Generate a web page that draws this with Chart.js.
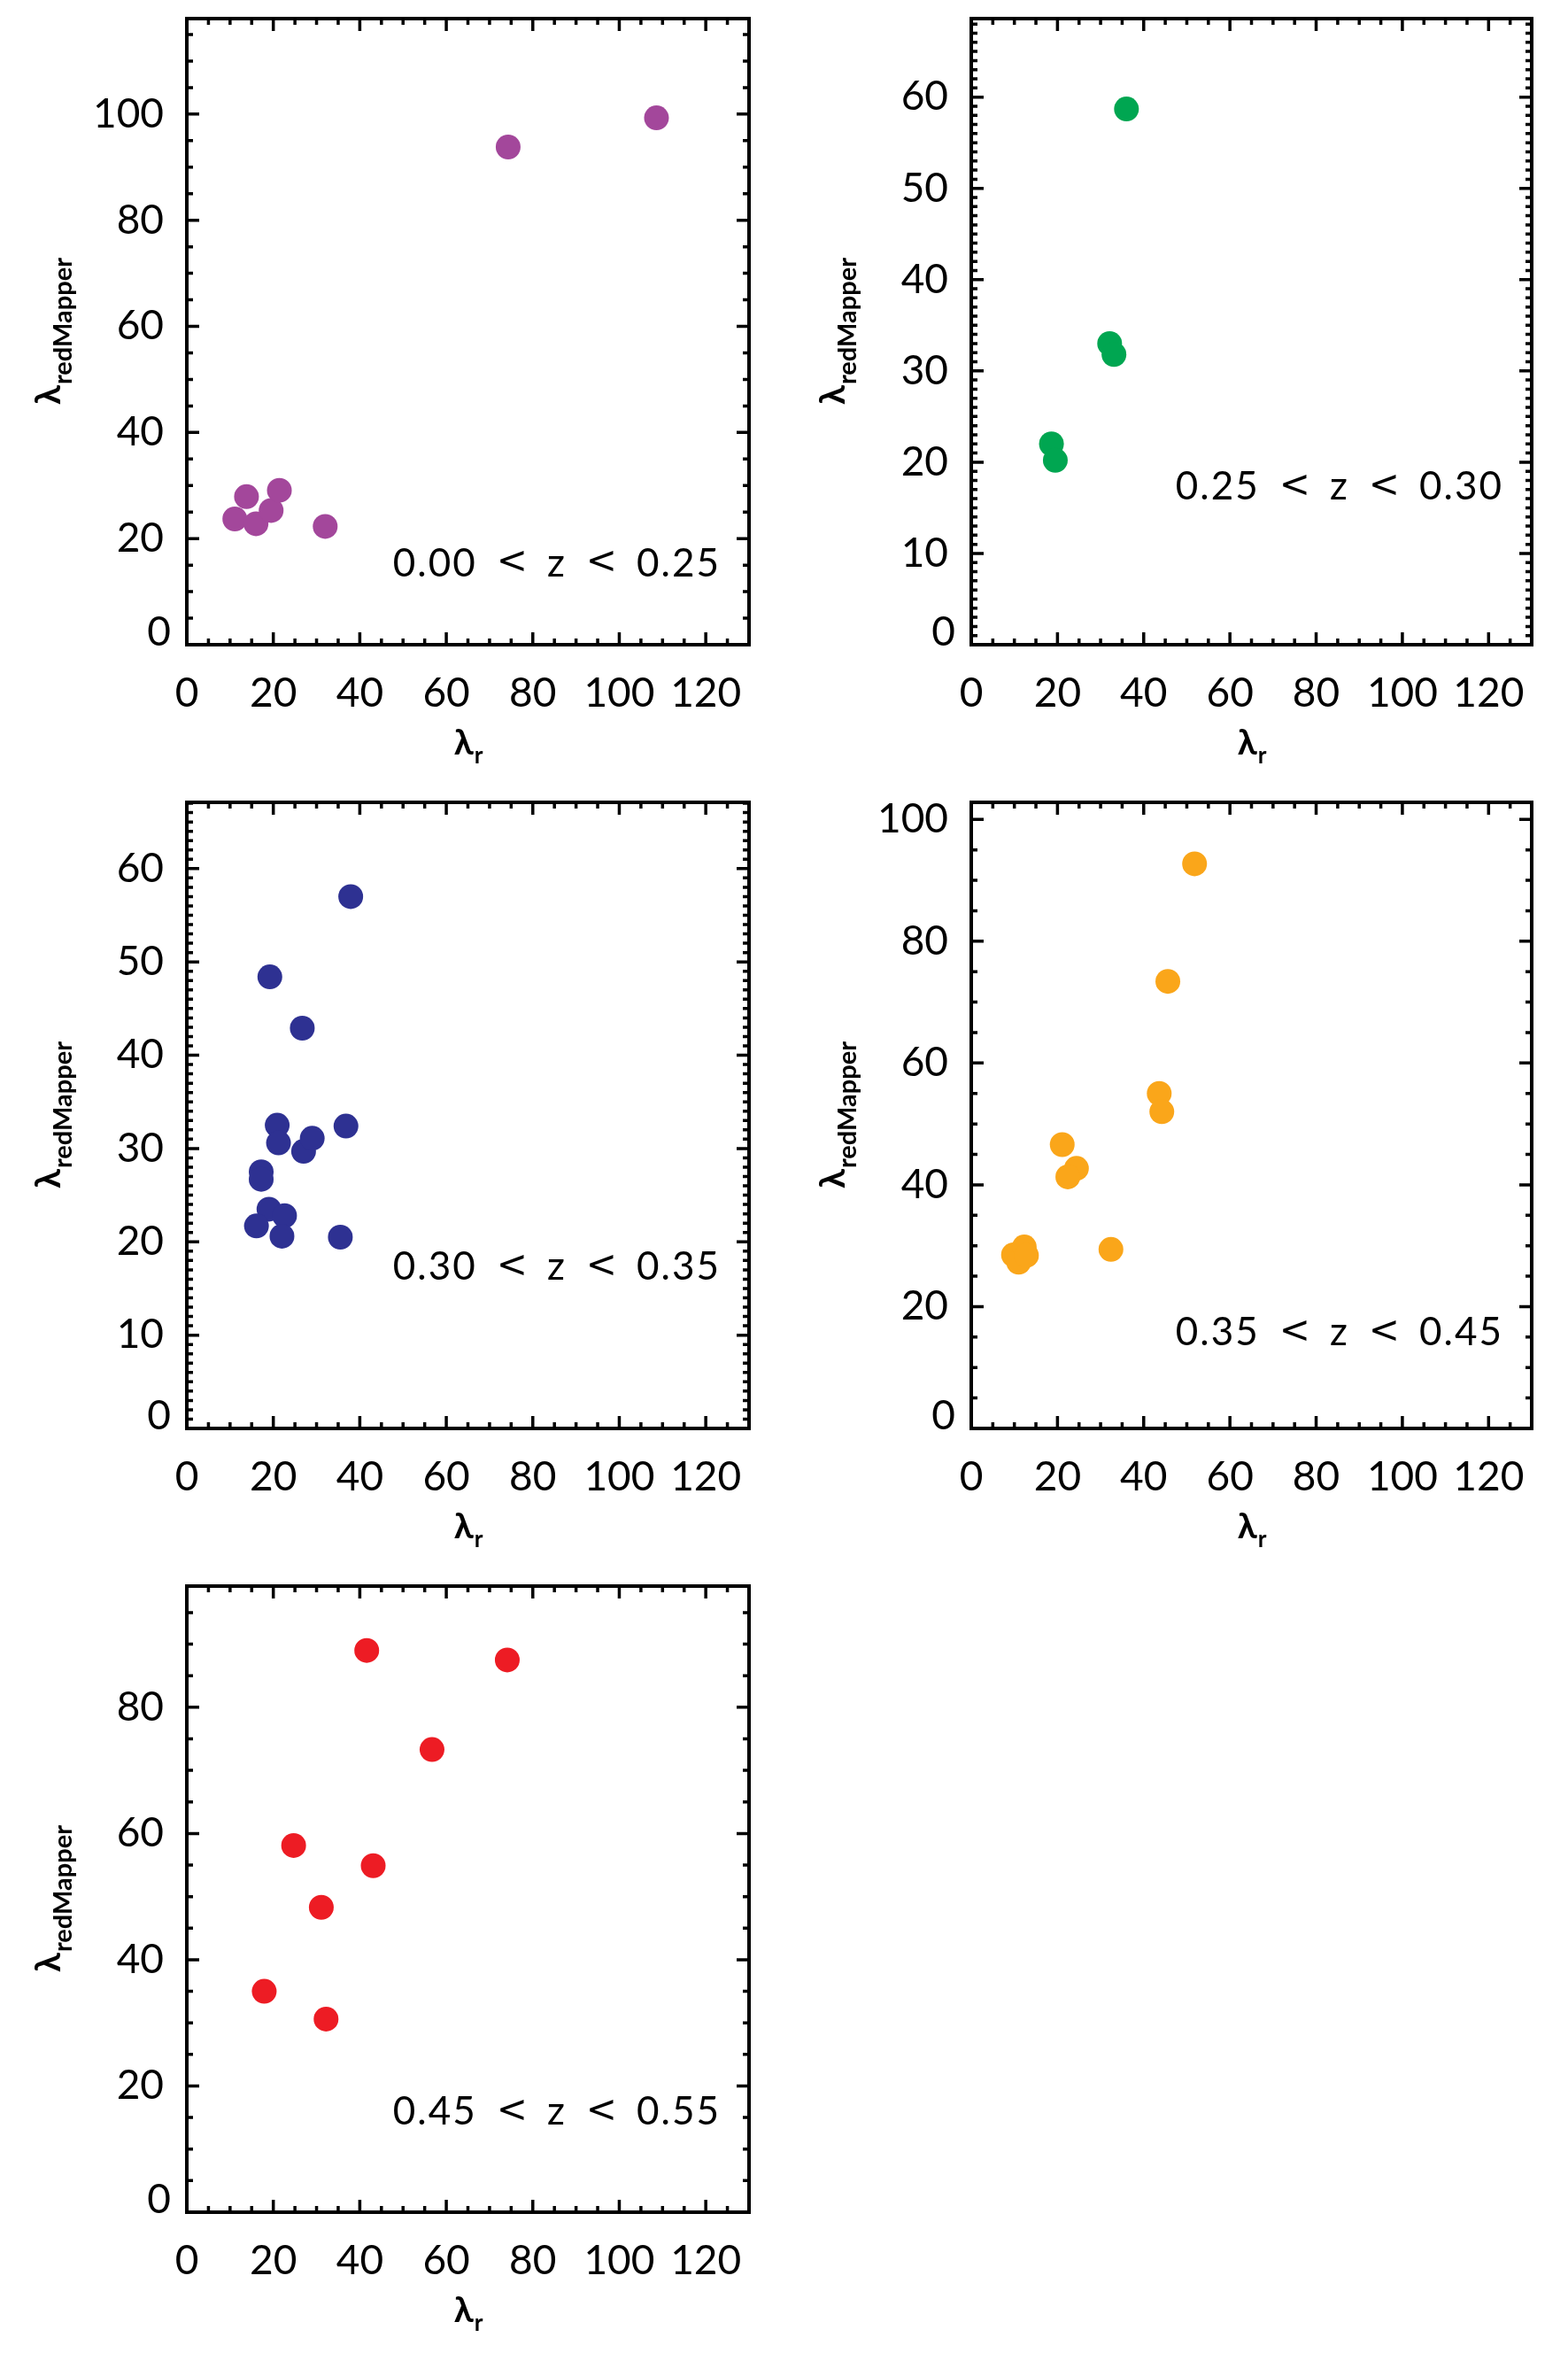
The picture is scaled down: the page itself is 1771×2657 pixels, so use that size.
<!DOCTYPE html>
<html>
<head>
<meta charset="utf-8">
<script src="https://cdn.jsdelivr.net/npm/chart.js@4.4.0/dist/chart.umd.min.js"></script>
<style>
  body { margin: 0; background: #fff; width: 1771px; height: 2657px; position: relative; overflow: hidden; }
  .panel { position: absolute; width: 885px; height: 885px; }
</style>
</head>
<body>
<div class="panel" style="left:0;top:0"><canvas id="p1" width="885" height="885"></canvas></div>
<div class="panel" style="left:886px;top:0"><canvas id="p2" width="885" height="885"></canvas></div>
<div class="panel" style="left:0;top:885px"><canvas id="p3" width="885" height="885"></canvas></div>
<div class="panel" style="left:886px;top:885px"><canvas id="p4" width="885" height="885"></canvas></div>
<div class="panel" style="left:0;top:1770px"><canvas id="p5" width="885" height="885"></canvas></div>
<script>
// lambda_r vs lambda_redMapper in five redshift bins

const xTicks = [0, 20, 40, 60, 80, 100, 120];

const zLabels = ['0.00 < z < 0.25', '0.25 < z < 0.30', '0.30 < z < 0.35', '0.35 < z < 0.45', '0.45 < z < 0.55'];

const lamR1 = [11.1, 13.8, 16.0, 19.5, 21.4, 32.0, 74.3, 108.6];
const lamRM1 = [23.7, 27.9, 22.8, 25.3, 29.1, 22.3, 93.8, 99.3];

const lamR2 = [18.6, 19.5, 32.1, 33.1, 36.0];
const lamRM2 = [22.0, 20.2, 33.0, 31.8, 58.7];

const lamR3 = [37.9, 19.2, 26.7, 20.9, 21.2, 27.0, 29.0, 36.8, 17.2, 17.2, 19.0, 22.6, 16.1, 22.0, 35.5];
const lamRM3 = [57.0, 48.4, 42.9, 32.5, 30.6, 29.7, 31.1, 32.4, 27.5, 26.7, 23.5, 22.8, 21.7, 20.6, 20.5];

const lamR4 = [51.8, 45.6, 43.6, 44.2, 21.1, 24.4, 22.4, 32.4, 9.8, 11.0, 12.3, 12.8];
const lamRM4 = [92.7, 73.4, 55.0, 52.0, 46.6, 42.7, 41.3, 29.4, 28.5, 27.3, 29.8, 28.4];

const lamR5 = [41.6, 74.1, 56.7, 24.7, 43.1, 31.1, 17.9, 32.2];
const lamRM5 = [89.0, 87.5, 73.3, 58.1, 54.9, 48.3, 35.0, 30.6];

const yTicks1 = [0, 20, 40, 60, 80, 100];
const yTicks2 = [0, 10, 20, 30, 40, 50, 60];
const yTicks3 = [0, 10, 20, 30, 40, 50, 60];
const yTicks4 = [0, 20, 40, 60, 80, 100];
const yTicks5 = [0, 20, 40, 60, 80];

const FONT = 'Lato, "DejaVu Sans", sans-serif';
const SYM_FONT = '"DejaVu Sans", sans-serif';
const TICK_SIZE = 46;

const panels = [
    { id: 'p1', xs: lamR1, ys: lamRM1, yTicks: yTicks1, yMax: 118, yMinor: 5, color: '#A3479B', label: zLabels[0], labelY: 15.3, padRight: 39 },
    { id: 'p2', xs: lamR2, ys: lamRM2, yTicks: yTicks2, yMax: 68.6, yMinor: 1, color: '#00A651', label: zLabels[1], labelY: 17.3, padRight: 41 },
    { id: 'p3', xs: lamR3, ys: lamRM3, yTicks: yTicks3, yMax: 67.1, yMinor: 1, color: '#2E3192', label: zLabels[2], labelY: 17.3, padRight: 39 },
    { id: 'p4', xs: lamR4, ys: lamRM4, yTicks: yTicks4, yMax: 102.8, yMinor: 5, color: '#FAA61A', label: zLabels[3], labelY: 15.7, padRight: 41 },
    { id: 'p5', xs: lamR5, ys: lamRM5, yTicks: yTicks5, yMax: 99.2, yMinor: 5, color: '#ED1C24', label: zLabels[4], labelY: 15.9, padRight: 39 }
];

// draws "0.00 < z < 0.25" token by token, right aligned at xr
function drawBinLabel(ctx, text, xr, yc) {
    const toks = text.split(' ');
    const gap = 22;
    const fontFor = t => (t === '<' ? '42px ' + SYM_FONT : '44px ' + FONT);
    const spacing = t => (t === '<' ? '0px' : '2px');
    const widths = toks.map(t => {
        ctx.font = fontFor(t);
        ctx.letterSpacing = spacing(t);
        return ctx.measureText(t).width;
    });
    let x = xr - widths.reduce((a, b) => a + b, 0) - gap * (toks.length - 1);
    toks.forEach((t, i) => {
        ctx.font = fontFor(t);
        ctx.letterSpacing = spacing(t);
        ctx.fillText(t, x, yc);
        x += widths[i] + gap;
    });
    ctx.letterSpacing = '0px';
}

// IDL style frame: box on all sides with inward major/minor ticks
const framePlugin = {
    id: 'frame',
    beforeDatasetsDraw(chart) {
        const { ctx, chartArea: a, scales: { x, y } } = chart;
        const p = chart.options.plugins.frame;
        ctx.save();
        ctx.strokeStyle = '#000';
        ctx.lineWidth = 3.5;
        ctx.lineCap = 'butt';
        const majLen = 14, minLen = 7;
        for (let v = x.min; v <= x.max + 1e-9; v += p.xMinor) {
            const px = x.getPixelForValue(v);
            const len = p.xMajor.includes(v) ? majLen : minLen;
            ctx.beginPath();
            ctx.moveTo(px, a.bottom); ctx.lineTo(px, a.bottom - len);
            ctx.moveTo(px, a.top); ctx.lineTo(px, a.top + len);
            ctx.stroke();
        }
        for (let v = y.min; v <= y.max + 1e-9; v += p.yMinor) {
            const py = y.getPixelForValue(v);
            const len = p.yMajor.includes(v) ? majLen : minLen;
            ctx.beginPath();
            ctx.moveTo(a.left, py); ctx.lineTo(a.left + len, py);
            ctx.moveTo(a.right, py); ctx.lineTo(a.right - len, py);
            ctx.stroke();
        }
        ctx.lineWidth = 4;
        ctx.strokeRect(a.left, a.top, a.right - a.left, a.bottom - a.top);
        ctx.restore();
    },
    afterDraw(chart) {
        const { ctx, chartArea: a, scales: { y } } = chart;
        const p = chart.options.plugins.frame;
        ctx.save();
        ctx.fillStyle = '#000';

        // the y "0" label sits a little above its tick, as in the original
        ctx.font = TICK_SIZE + 'px ' + FONT;
        ctx.textAlign = 'right';
        ctx.textBaseline = 'middle';
        ctx.fillText('0', a.left - 18, a.bottom - 14);

        ctx.textAlign = 'left';
        drawBinLabel(ctx, p.label, a.right - 32, y.getPixelForValue(p.labelY));

        // x title: lambda_r
        const big = 'bold 40px ' + FONT, small = 'bold 26px ' + FONT;
        ctx.textBaseline = 'alphabetic';
        ctx.font = big;
        let w1 = ctx.measureText('\u03BB').width;
        ctx.font = small;
        let w2 = ctx.measureText('r').width;
        let cx = (a.left + a.right) / 2 - (w1 + w2) / 2;
        ctx.font = big;
        ctx.fillText('\u03BB', cx, a.bottom + 124);
        ctx.font = small;
        ctx.fillText('r', cx + w1 + 1, a.bottom + 134);

        // y title: lambda_redMapper
        ctx.save();
        ctx.translate(68, (a.top + a.bottom) / 2);
        ctx.rotate(-Math.PI / 2);
        const sub = 'bold 29px ' + FONT;
        ctx.font = big;
        w1 = ctx.measureText('\u03BB').width;
        ctx.font = sub;
        w2 = ctx.measureText('redMapper').width;
        const sx = -(w1 + w2) / 2;
        ctx.font = big;
        ctx.fillText('\u03BB', sx, 0);
        ctx.font = sub;
        ctx.fillText('redMapper', sx + w1 + 1, 13);
        ctx.restore();

        ctx.restore();
    }
};

panels.forEach(p => {
    const pts = p.xs.map((v, i) => ({ x: v, y: p.ys[i] }));
    new Chart(document.getElementById(p.id), {
        type: 'scatter',
        data: {
            datasets: [{
                data: pts,
                pointRadius: 14,
                pointHoverRadius: 14,
                pointBackgroundColor: p.color,
                pointBorderWidth: 0,
                borderWidth: 0
            }]
        },
        plugins: [framePlugin],
        options: {
            responsive: false,
            animation: false,
            devicePixelRatio: 1,
            layout: { padding: { left: 0, top: 21, right: p.padRight, bottom: 0 } },
            plugins: {
                legend: { display: false },
                tooltip: { enabled: false },
                frame: { xMajor: xTicks, xMinor: 5, yMajor: p.yTicks, yMinor: p.yMinor, label: p.label, labelY: p.labelY }
            },
            scales: {
                x: {
                    type: 'linear',
                    min: 0,
                    max: 130,
                    grid: { display: false },
                    border: { display: false },
                    afterBuildTicks: s => { s.ticks = xTicks.map(v => ({ value: v })); },
                    afterFit: s => { s.height = 157; s.paddingLeft = 0; s.paddingRight = 0; },
                    ticks: { color: '#000', font: { family: FONT, size: TICK_SIZE }, padding: 20, maxRotation: 0, autoSkip: false }
                },
                y: {
                    type: 'linear',
                    min: 0,
                    max: p.yMax,
                    grid: { display: false },
                    border: { display: false },
                    afterBuildTicks: s => { s.ticks = p.yTicks.map(v => ({ value: v })); },
                    afterFit: s => { s.width = 211; s.paddingTop = 0; s.paddingBottom = 0; },
                    ticks: {
                        color: '#000',
                        font: { family: FONT, size: TICK_SIZE },
                        padding: 18,
                        autoSkip: false,
                        callback: v => (v === 0 ? '' : v)
                    }
                }
            }
        }
    });
});
</script>
</body>
</html>
